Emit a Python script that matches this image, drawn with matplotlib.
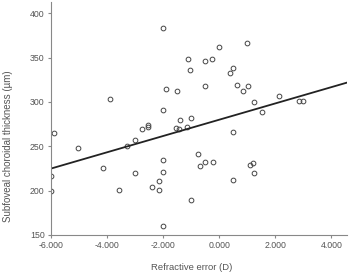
import numpy as np
import matplotlib
matplotlib.use('Agg')
import matplotlib.pyplot as plt

# Refractive error (D) and subfoveal choroidal thickness (um)
refraction = [-2.02, -3.90, -1.90, -2.02, -5.89, -2.76, -2.55, -2.55,
              -0.02, 0.99, -1.13, -0.52, -0.26, -1.04, 0.50, 0.37,
              -1.50, -0.52, 0.63, 1.01, 0.85, 1.24, 2.13, 2.86, 2.99,
              1.51, -1.40, -1.00, -1.55, -1.15, -1.42, 0.50,
              -5.04, -3.30, -3.02, -6.00, -6.00, -4.14, -3.02, -3.56,
              -2.40, -2.14, -2.15, -2.02, -2.02, -2.02,
              -0.77, -0.67, -0.52, -0.24, 0.48, 1.10, 1.20, 1.25, -1.02]
thickness = [383, 303, 315, 291, 265, 270, 274, 272,
             362, 367, 348, 346, 348, 336, 338, 333,
             312, 318, 319, 318, 312, 300, 307, 301, 301,
             289, 280, 282, 271, 272, 269, 266,
             248, 250, 257, 216, 200, 225, 220, 201,
             204, 201, 211, 235, 221, 160,
             241, 228, 232, 232, 212, 229, 231, 220, 189]

# fit line as drawn in the figure
fit_intercept = 280.0
fit_slope = 9.2

xticks = [-6, -4, -2, 0, 2, 4]
yticks = [150, 200, 250, 300, 350, 400]

plt.rcParams['font.family'] = ['Liberation Sans', 'DejaVu Sans']

fig = plt.figure(figsize=(3.49, 2.74), dpi=100)
ax = fig.add_axes([0.146, 0.143, 0.848, 0.85])

ax.plot(refraction, thickness, 'o', mfc='none', mec='#444444', mew=0.7, ms=3.4)

xl = np.array([-6.0, 4.55])
ax.plot(xl, fit_intercept + fit_slope*xl, '-', color='#222222', lw=1.3)

ax.set_xlim(-6.0, 4.55)
ax.set_ylim(150, 413)
ax.set_xticks(xticks)
ax.set_xticklabels(['%.3f' % t for t in xticks])
ax.set_yticks(yticks)

for s in ['top', 'right']:
    ax.spines[s].set_visible(False)
for s in ['left', 'bottom']:
    ax.spines[s].set_color('#888888')
    ax.spines[s].set_linewidth(0.8)
ax.tick_params(colors='#888888', labelcolor='#555555', labelsize=6.3,
               length=2.5, width=0.8, pad=2)

ax.set_xlabel('Refractive error (D)', fontsize=6.8, color='#555555')
ax.set_ylabel('Subfoveal choroidal thickness (\u00b5m)', fontsize=7.0,
              color='#555555')
ax.xaxis.set_label_coords(0.476, -0.139)
ax.yaxis.set_label_coords(-0.145, 0.382)
ax.xaxis.label.set_va('center')
ax.yaxis.label.set_va('center')

fig.savefig('out.png', dpi=100)
